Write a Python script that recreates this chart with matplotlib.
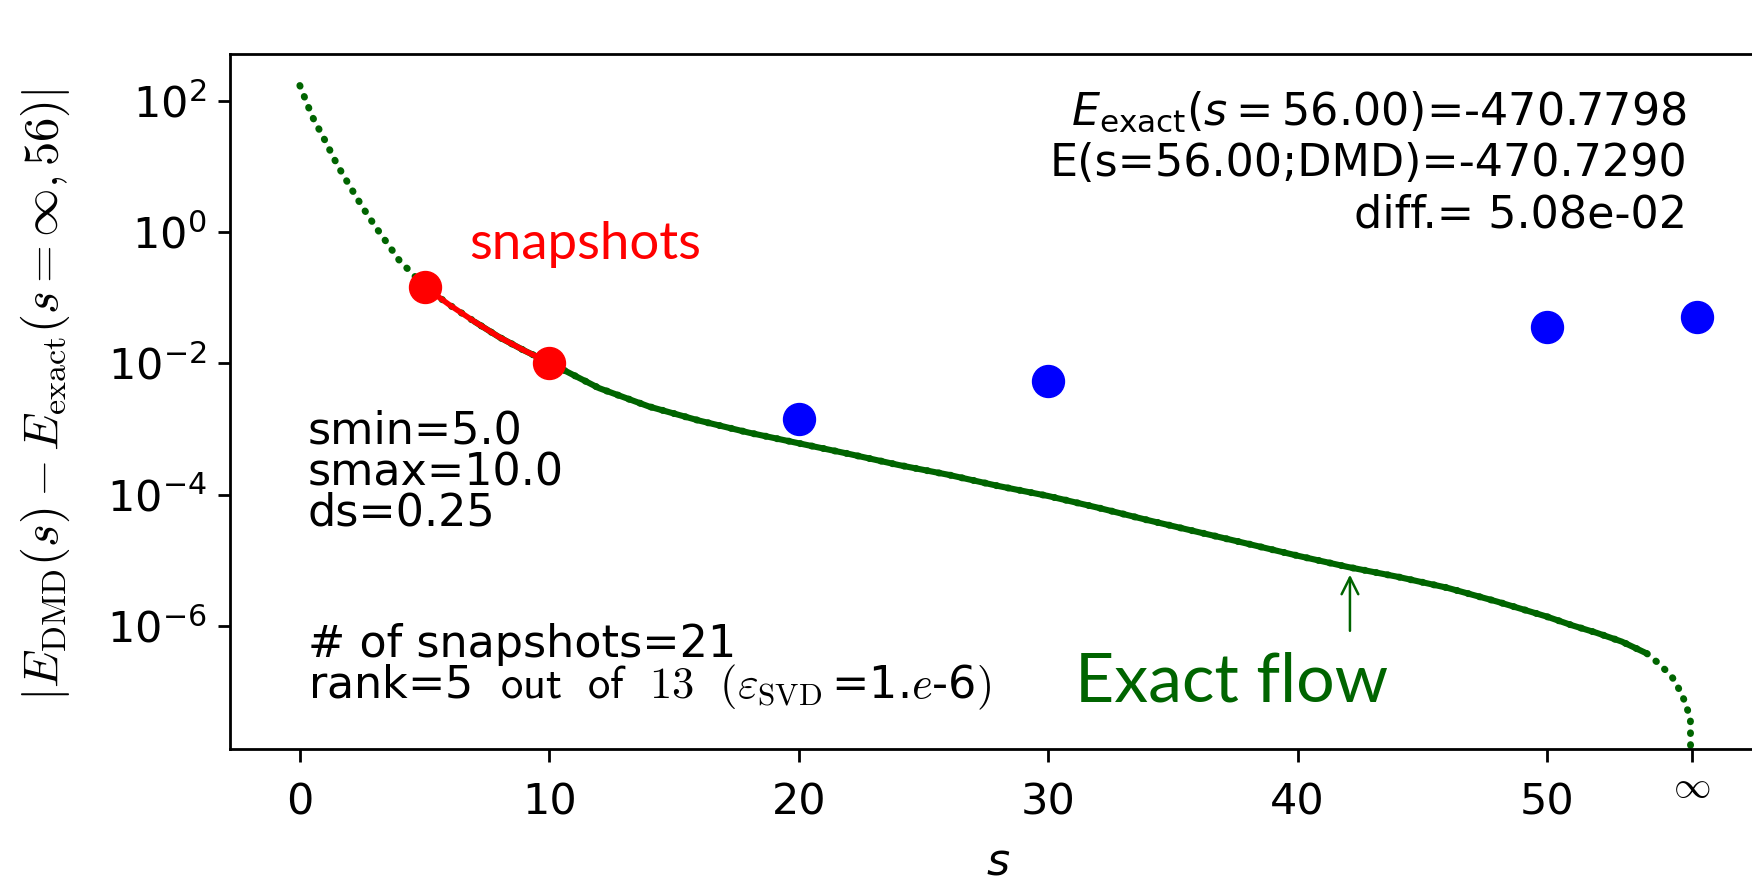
import numpy as np
import matplotlib
matplotlib.use("Agg")
import matplotlib.pyplot as plt
from matplotlib.ticker import NullLocator, FixedLocator
from matplotlib.transforms import blended_transform_factory

# ---------------- data ----------------
s_exact = [0.0, 0.5, 1.0, 1.5, 2.0, 2.5, 3.0, 3.5, 4.0, 4.5, 5.0,
           6.0, 7.0, 8.0, 9.0, 10.0, 12.0, 14.0, 16.0, 18.0, 20.0,
           22.0, 24.0, 26.0, 28.0, 30.0, 32.0, 34.0, 36.0, 38.0, 40.0,
           42.0, 44.0, 46.0, 48.0, 50.0, 51.0, 52.0, 53.0, 54.0, 54.5,
           55.0, 55.25, 55.5, 55.75, 55.8]
err_exact = [170.0, 57.0, 25.1, 10.5, 5.0, 2.43, 1.25, 0.676, 0.363, 0.234, 0.147,
             0.0773, 0.0431, 0.0249, 0.0156, 0.0102, 4.17e-3, 2.19e-3, 1.34e-3, 8.77e-4, 6.04e-4,
             4.17e-4, 2.82e-4, 2.0e-4, 1.35e-4, 9.5e-5, 6.3e-5, 4.07e-5, 2.69e-5, 1.78e-5, 1.17e-5,
             7.9e-6, 5.6e-6, 3.8e-6, 2.34e-6, 1.38e-6, 1.02e-6, 7.8e-7, 5.75e-7, 3.8e-7, 2.63e-7,
             1.7e-7, 1.17e-7, 7.4e-8, 3.9e-8, 1.0e-12]

s_snap = [5.0, 10.0]
err_snap = [0.147, 0.0102]

s_dmd = [20.0, 30.0, 50.0, 56.0]
err_dmd = [1.40e-3, 5.4e-3, 3.52e-2, 5.08e-2]

xtick_vals = [0, 10, 20, 30, 40, 50, 55.8]
xtick_labels = ["0", "10", "20", "30", "40", "50", ""]
inf_label = r"$\infty$"
ytick_vals = [1e2, 1e0, 1e-2, 1e-4, 1e-6]

info_right = [r"$E_{\rm exact}(s=56.00)$=-470.7798",
              "E(s=56.00;DMD)=-470.7290",
              "diff.= 5.08e-02"]
info_left = ["smin=5.0", "smax=10.0", "ds=0.25",
             "# of snapshots=21",
             r"rank=5 $\ \mathsf{out\ \ of\ \ 13}\ \ (\varepsilon_{\rm SVD}\,$=1.$e$-6$)$"]

# ---------------- figure ----------------
W, H = 1752, 882
fig = plt.figure(figsize=(W / 100, H / 100), dpi=100)
ax = fig.add_axes([230 / W, 1 - 748.6 / H, (1766.5 - 230) / W, (748.6 - 54.3) / H])

green = "#006400"
s_arr = np.array(s_exact)
e_arr = np.array(err_exact)

# dotted exact flow
ax.plot(s_arr, e_arr, color=green, lw=5, linestyle=(0, (0.1, 1.6)),
        dash_capstyle="round", zorder=2)
# dense (flat) part where the dots merge into a band
mid = (s_arr >= 6.5) & (s_arr <= 54.0)
ax.plot(s_arr[mid], e_arr[mid], color=green, lw=4.4, solid_capstyle="round", zorder=2)

# snapshot range in red
snap_mask = (s_arr >= s_snap[0]) & (s_arr <= s_snap[1])
ax.plot(s_arr[snap_mask], e_arr[snap_mask], color="red", lw=4, zorder=3)
ax.plot(s_snap, err_snap, "o", color="red", ms=23, zorder=4)

# DMD predictions
ax.plot(s_dmd, err_dmd, "o", color="blue", ms=23, zorder=4)

ax.set_yscale("log")
ax.set_xlim(-2.8, 58.8)
ax.set_ylim(10 ** -7.87, 10 ** 2.706)
ax.yaxis.set_major_locator(FixedLocator(ytick_vals))
ax.yaxis.set_minor_locator(NullLocator())
ax.set_xticks(xtick_vals)
ax.set_xticklabels(xtick_labels)

for sp in ax.spines.values():
    sp.set_linewidth(2)
ax.tick_params(axis="both", length=9, width=2, labelsize=31)
ax.tick_params(axis="x", pad=15)
ax.tick_params(axis="y", pad=8)

# the infinity tick label
ax.text(xtick_vals[-1], -0.056, inf_label, transform=blended_transform_factory(ax.transData, ax.transAxes),
        ha="center", va="center", fontsize=27, math_fontfamily="cm")

ax.set_xlabel(r"$s$", fontsize=32)
ax.xaxis.set_label_coords(0.5, -0.163)
ax.xaxis.label.set_va("center")
ax.set_ylabel(r"$|E_{\rm DMD}(s) - E_{\rm exact}(s=\infty, 56)|$", fontsize=35,
              math_fontfamily="cm")
ax.yaxis.set_label_coords(-0.12, 0.51)
ax.yaxis.label.set_va("center")

# top-right info
for txt, yb in zip(info_right, [125, 176.5, 227]):
    fig.text(1687 / W, 1 - yb / H, txt, ha="right", va="baseline", fontsize=32)

# left info block
for txt, yb in zip(info_left, [443.6, 485, 526, 657, 698]):
    fig.text(308 / W, 1 - yb / H, txt, ha="left", va="baseline", fontsize=32,
             math_fontfamily="cm")

fig.text(469 / W, 1 - 259 / H, "snapshots", color="red", fontsize=38,
         ha="left", va="baseline", family=["Lato", "DejaVu Sans"])
fig.text(1075 / W, 1 - 701.7 / H, "Exact flow", color=green, fontsize=49,
         ha="left", va="baseline", family=["Lato", "DejaVu Sans"])

ax.annotate("", xy=(42.1, 6.0e-6), xytext=(42.1, 8.4e-7),
            arrowprops=dict(arrowstyle="->", color=green, lw=1.8,
                            shrinkA=0, shrinkB=0, mutation_scale=30))

fig.savefig("out.png", dpi=100)
